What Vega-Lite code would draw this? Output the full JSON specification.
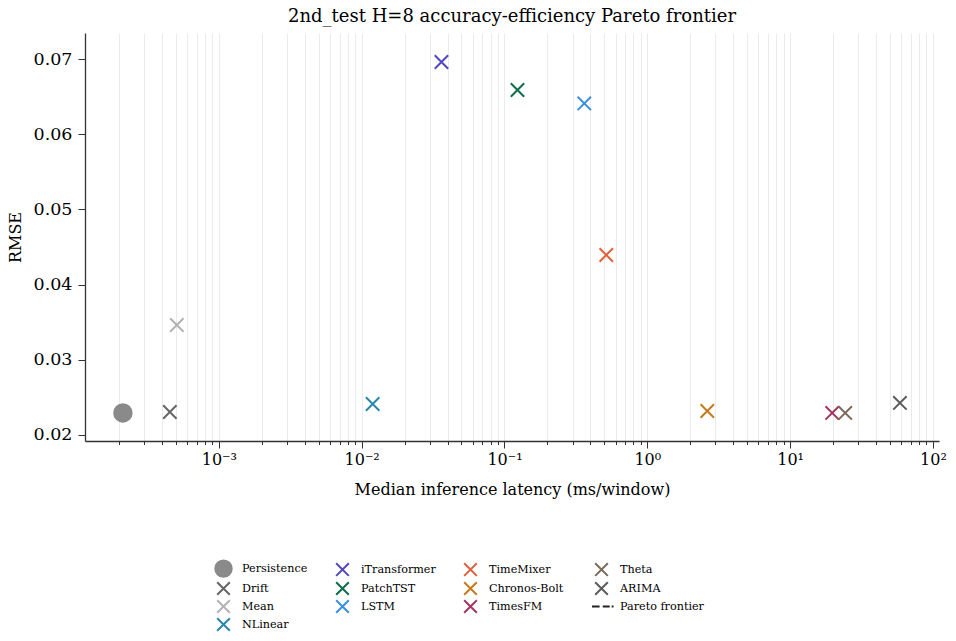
{
  "$schema": "https://vega.github.io/schema/vega-lite/v6.json",
  "autosize": {"type": "none"},
  "width": 854,
  "height": 408,
  "padding": {"left": 85, "top": 33, "right": 17, "bottom": 200},
  "background": "white",
  "title": {"text": "2nd_test H=8 accuracy-efficiency Pareto frontier", "font": "DejaVu Serif", "fontSize": 18, "fontWeight": "normal", "color": "#000", "offset": 7, "anchor": "middle"},
  "config": {"view": {"stroke": null}},
  "datasets": {
    "models": [
      {"model": "Persistence", "latency": 0.000213, "rmse": 0.02293},
      {"model": "Drift", "latency": 0.000454, "rmse": 0.02306},
      {"model": "Mean", "latency": 0.000508, "rmse": 0.03463},
      {"model": "NLinear", "latency": 0.01194, "rmse": 0.02412},
      {"model": "iTransformer", "latency": 0.0362, "rmse": 0.0696},
      {"model": "PatchTST", "latency": 0.1233, "rmse": 0.06588},
      {"model": "LSTM", "latency": 0.362, "rmse": 0.0641},
      {"model": "TimeMixer", "latency": 0.516, "rmse": 0.04394},
      {"model": "Chronos-Bolt", "latency": 2.63, "rmse": 0.02319},
      {"model": "TimesFM", "latency": 19.7, "rmse": 0.02293},
      {"model": "Theta", "latency": 24.3, "rmse": 0.02293},
      {"model": "ARIMA", "latency": 58.7, "rmse": 0.02426}
    ],
    "frontier": [
      {"latency": 0.000213, "rmse": 0.02293}
    ]
  },
  "layer": [
    {
      "data": {"name": "frontier"},
      "mark": {"type": "line", "color": "#222222", "strokeDash": [5, 3], "strokeWidth": 1.5},
      "encoding": {
        "x": {"field": "latency", "type": "quantitative"},
        "y": {"field": "rmse", "type": "quantitative"}
      }
    },
    {
      "data": {"name": "models"},
      "mark": {"type": "point", "filled": false, "strokeWidth": 2, "size": 180, "opacity": 1},
      "encoding": {
        "x": {
          "field": "latency", "type": "quantitative",
          "scale": {"type": "log", "domain": [0.0001156, 110.2], "nice": false},
          "axis": {
            "title": "Median inference latency (ms/window)",
            "titleFont": "DejaVu Serif", "titleFontSize": 16, "titleFontWeight": "normal", "titleColor": "#000", "titlePadding": 14,
            "values": [0.0002,0.0003,0.0004,0.0005,0.0006,0.0007,0.0008,0.0009,0.001,0.002,0.003,0.004,0.005,0.006,0.007,0.008,0.009,0.01,0.02,0.03,0.04,0.05,0.06,0.07,0.08,0.09,0.1,0.2,0.3,0.4,0.5,0.6,0.7,0.8,0.9,1,2,3,4,5,6,7,8,9,10,20,30,40,50,60,70,80,90,100],
            "labelExpr": "abs(log(datum.value)/LN10 - round(log(datum.value)/LN10)) > 0.001 ? '' : round(log(datum.value)/LN10) == -3 ? '10⁻³' : round(log(datum.value)/LN10) == -2 ? '10⁻²' : round(log(datum.value)/LN10) == -1 ? '10⁻¹' : round(log(datum.value)/LN10) == 0 ? '10⁰' : round(log(datum.value)/LN10) == 1 ? '10¹' : '10²'",
            "labelFont": "DejaVu Serif", "labelFontSize": 16, "labelColor": "#000", "labelPadding": 3, "labelFlush": false, "labelOverlap": false,
            "tickSize": {"condition": {"test": "abs(log(datum.value)/LN10 - round(log(datum.value)/LN10)) < 0.001", "value": 7}, "value": 3.5},
            "tickColor": "#333", "tickWidth": 1,
            "domainColor": "#333", "domainWidth": 1.3,
            "grid": true, "gridColor": "#ebebeb", "gridWidth": 1
          }
        },
        "y": {
          "field": "rmse", "type": "quantitative",
          "scale": {"domain": [0.0192, 0.07346], "nice": false, "zero": false},
          "axis": {
            "title": "RMSE",
            "titleFont": "DejaVu Serif", "titleFontSize": 16, "titleFontWeight": "normal", "titleColor": "#000", "titlePadding": 10,
            "values": [0.02, 0.03, 0.04, 0.05, 0.06, 0.07],
            "format": ".2f",
            "labelFont": "DejaVu Serif", "labelFontSize": 17.5, "labelColor": "#000", "labelPadding": 6,
            "tickSize": 7, "tickColor": "#333",
            "domainColor": "#333", "domainWidth": 1.3,
            "grid": false
          }
        },
        "stroke": {
          "field": "model", "type": "nominal",
          "scale": {
            "domain": ["Persistence", "Drift", "ARIMA", "TimesFM", "iTransformer", "PatchTST", "Mean", "Pareto frontier", "TimeMixer", "Chronos-Bolt", "LSTM", "NLinear", "Theta"],
            "range": ["#8a8a8a", "#666666", "#5c5c5c", "#a2365f", "#5247c2", "#0c6e4a", "#b3b3b3", "#222222", "#e4603a", "#c47b1c", "#3b8fe3", "#2a86ad", "#7c6a58"]
          },
          "legend": {
            "title": null, "orient": "none", "legendX": 131, "legendY": 528, "columns": 4, "columnPadding": 24, "rowPadding": -6, "direction": "vertical",
            "labelFont": "DejaVu Serif", "labelFontSize": 11.2, "labelColor": "#000", "labelOffset": 11,
            "symbolSize": 160, "symbolStrokeWidth": 2, "symbolOpacity": 1
          }
        },
        "fill": {
          "field": "model", "type": "nominal",
          "scale": {
            "domain": ["Persistence", "Drift", "ARIMA", "TimesFM", "iTransformer", "PatchTST", "Mean", "Pareto frontier", "TimeMixer", "Chronos-Bolt", "LSTM", "NLinear", "Theta"],
            "range": ["#8a8a8a", "#666666", "#5c5c5c", "#a2365f", "#5247c2", "#0c6e4a", "#b3b3b3", "#222222", "#e4603a", "#c47b1c", "#3b8fe3", "#2a86ad", "#7c6a58"]
          },
          "legend": {
            "title": null, "orient": "none", "legendX": 131, "legendY": 528, "columns": 4, "columnPadding": 24, "rowPadding": -6, "direction": "vertical",
            "labelFont": "DejaVu Serif", "labelFontSize": 11.2, "labelColor": "#000", "labelOffset": 11,
            "symbolSize": 160, "symbolStrokeWidth": 2, "symbolOpacity": 1
          }
        },
        "shape": {
          "field": "model", "type": "nominal",
          "scale": {
            "domain": ["Persistence", "Drift", "ARIMA", "TimesFM", "iTransformer", "PatchTST", "Mean", "Pareto frontier", "TimeMixer", "Chronos-Bolt", "LSTM", "NLinear", "Theta"],
            "range": [
              "M-1.3,0A1.3,1.3 0 1,1 1.3,0A1.3,1.3 0 1,1 -1.3,0Z",
              "M-1,-1L1,1M-1,1L1,-1", "M-1,-1L1,1M-1,1L1,-1", "M-1,-1L1,1M-1,1L1,-1",
              "M-1,-1L1,1M-1,1L1,-1", "M-1,-1L1,1M-1,1L1,-1", "M-1,-1L1,1M-1,1L1,-1",
              "M-1.5,0L-0.3,0M0.2,0L1.3,0M1.6,0L1.9,0",
              "M-1,-1L1,1M-1,1L1,-1", "M-1,-1L1,1M-1,1L1,-1", "M-1,-1L1,1M-1,1L1,-1", "M-1,-1L1,1M-1,1L1,-1", "M-1,-1L1,1M-1,1L1,-1"
            ]
          },
          "legend": {
            "title": null, "orient": "none", "legendX": 131, "legendY": 528, "columns": 4, "columnPadding": 24, "rowPadding": -6, "direction": "vertical",
            "labelFont": "DejaVu Serif", "labelFontSize": 11.2, "labelColor": "#000", "labelOffset": 11,
            "symbolSize": 160, "symbolStrokeWidth": 2, "symbolOpacity": 1
          }
        }
      }
    }
  ]
}
